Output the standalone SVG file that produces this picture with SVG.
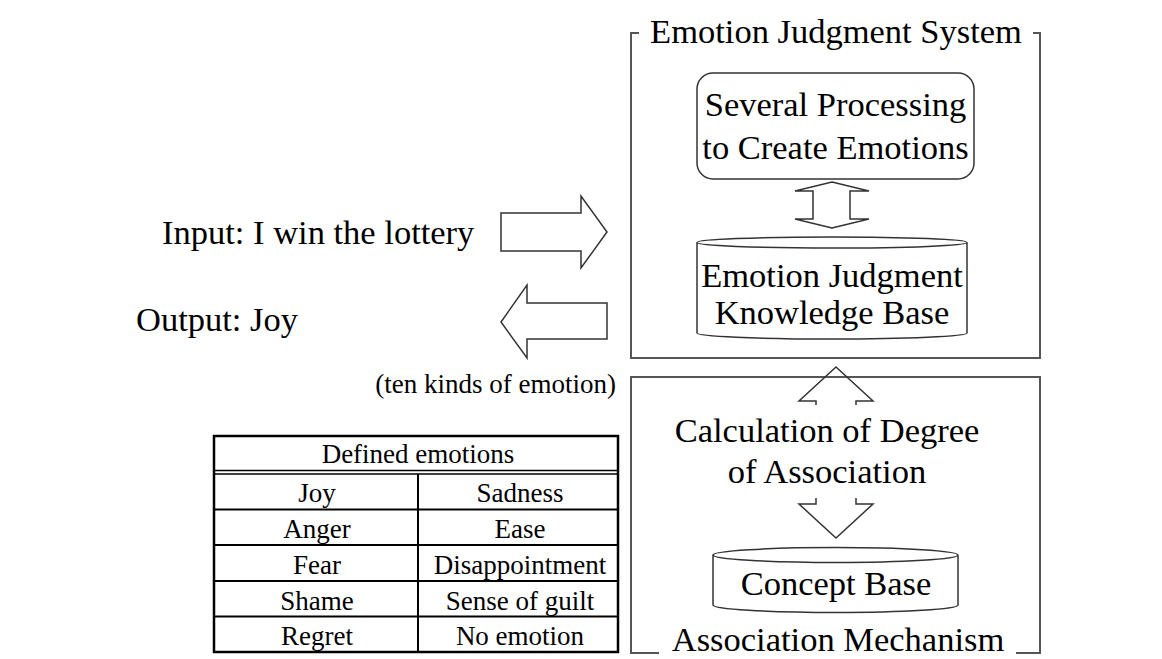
<svg xmlns="http://www.w3.org/2000/svg" width="1162" height="659" viewBox="0 0 1162 659">
<style>
.t{font-family:"Liberation Serif","Times New Roman",serif;fill:#000}
.big{font-size:34.5px}
.med{font-size:27px}
.tab{font-size:27px}
.m{text-anchor:middle}
.frame{fill:none;stroke:#555;stroke-width:2}
.shape{fill:none;stroke:#333;stroke-width:1.5}
.arrow{fill:#fff;stroke:#333;stroke-width:1.5;stroke-linejoin:miter}
.open{fill:none;stroke:#333;stroke-width:1.5}
.tb{fill:none;stroke:#000;stroke-width:2}
.tbo{fill:none;stroke:#000;stroke-width:2.5}
</style>
<rect width="1162" height="659" fill="#fff"/>

<g id="emotion-judgment-system">
  <path class="frame" d="M639,33 H631 V358 H1040 V33 H1033"/>
  <text class="t big m" x="836" y="43">Emotion Judgment System</text>
</g>

<g id="association-mechanism">
  <path class="frame" d="M659,653 H631 V377 H1040 V653 H1016"/>
  <text class="t big m" x="838" y="651">Association Mechanism</text>
</g>

<g id="processing-node">
  <rect class="shape" x="697" y="73" width="277" height="106" rx="16" ry="16"/>
  <text class="t big m" x="835.5" y="116">Several Processing</text>
  <text class="t big m" x="835.5" y="159">to Create Emotions</text>
</g>

<g id="knowledge-base-node">
  <path class="shape" d="M697,242.5 V333 A135,6 0 0 0 967,333 V242.5 A135,5.5 0 0 0 697,242.5 A135,5.5 0 0 0 967,242.5"/>
  <text class="t big m" x="832" y="287">Emotion Judgment</text>
  <text class="t big m" x="832" y="324">Knowledge Base</text>
</g>

<g id="concept-base-node">
  <path class="shape" d="M713,555 V605 A122.5,7.5 0 0 0 958,605 V555 A122.5,7.5 0 0 0 713,555 A122.5,7.5 0 0 0 958,555"/>
  <text class="t big m" x="836" y="595">Concept Base</text>
</g>

<g id="calculation-node">
  <text class="t big m" x="827" y="442">Calculation of Degree</text>
  <text class="t big m" x="827" y="483">of Association</text>
</g>

<g id="input-label">
  <text class="t big" x="162" y="244">Input: I win the lottery</text>
</g>

<g id="output-label">
  <text class="t big" x="136" y="331">Output: Joy</text>
  <text class="t med" x="616" y="393" text-anchor="end">(ten kinds of emotion)</text>
</g>

<g id="connectors">
  <path class="arrow" d="M501,213 H581 V196 L607,232 L581,268 V251 H501 Z"/>
  <path class="arrow" d="M607,303 H527 V285 L501,322 L527,358 V339 H607 Z"/>
  <path class="arrow" d="M832,182 L869,191 H850 V219 H869 L832,228 L795,219 H813 V191 H795 Z"/>
  <path class="open" d="M816,405 V401 H799 L836,367 L873,401 H856 V405"/>
  <path class="open" d="M816,498 V504 H799 L836,538 L873,504 H856 V498"/>
</g>

<g id="defined-emotions-table">
  <rect class="tbo" x="214" y="436" width="404" height="216"/>
  <line class="tb" x1="214" y1="470.5" x2="618" y2="470.5" style="stroke-width:1.5"/>
  <line class="tb" x1="214" y1="474" x2="618" y2="474" style="stroke-width:1.5"/>
  <line class="tb" x1="214" y1="509.5" x2="618" y2="509.5"/>
  <line class="tb" x1="214" y1="545" x2="618" y2="545"/>
  <line class="tb" x1="214" y1="581" x2="618" y2="581"/>
  <line class="tb" x1="214" y1="616.5" x2="618" y2="616.5"/>
  <line class="tb" x1="418" y1="474" x2="418" y2="652"/>
  <text class="t tab m" x="418" y="463">Defined emotions</text>
  <text class="t tab m" x="317" y="502">Joy</text>
  <text class="t tab m" x="520" y="502">Sadness</text>
  <text class="t tab m" x="317" y="538">Anger</text>
  <text class="t tab m" x="520" y="538">Ease</text>
  <text class="t tab m" x="317" y="574">Fear</text>
  <text class="t tab m" x="520" y="574">Disappointment</text>
  <text class="t tab m" x="317" y="610">Shame</text>
  <text class="t tab m" x="520" y="610">Sense of guilt</text>
  <text class="t tab m" x="317" y="645">Regret</text>
  <text class="t tab m" x="520" y="645">No emotion</text>
</g>
</svg>
